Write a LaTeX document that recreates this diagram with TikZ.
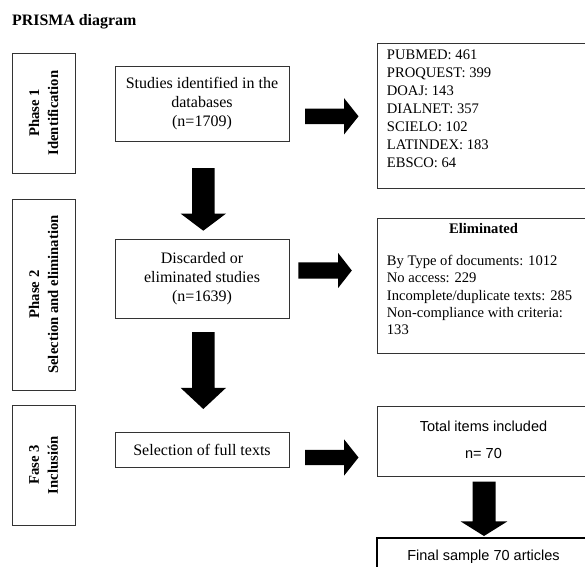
\documentclass[tikz,border=0pt]{standalone}
\usepackage{fontspec}
\setmainfont{Liberation Serif}
\setsansfont{Liberation Sans}
\usetikzlibrary{
    positioning,
    shapes.arrows
}
\tikzset{
    caja/.style={
        draw=black!80,
        line width=1pt,
        inner sep=0pt,
        outer sep=0pt,
        align=center,
        font=\fontsize{16}{19}\selectfont
    },
    fase/.style={
        caja,
        rotate=90,
        minimum height=63pt,
        font=\bfseries\fontsize{14.7}{19}\selectfont
    },
    lista/.style={
        inner sep=0pt,
        align=left,
        font=\fontsize{14.6}{18}\selectfont
    },
    texto/.style={
        inner sep=0pt,
        anchor=base,
        font=\sffamily\fontsize{14.5}{17}\selectfont
    },
    flecha/.style={
        single arrow,
        fill=black,
        draw=none,
        outer sep=0pt,
        anchor=tail
    }
}

\begin{document}
\begin{tikzpicture}[
    x=1pt,
    y=-1pt
]

    \clip (0,0) rectangle (585,566);

    % Titulo
    \node[inner sep=0pt, anchor=base west, font=\bfseries\fontsize{15.9}{18}\selectfont]
        (titulo) at (12,25) {PRISMA diagram};

    % Fases
    \node[fase, minimum width=120pt] (fase1) at (43.5,113)   {Phase 1\\Identification};
    \node[fase, minimum width=191pt] (fase2) at (43.5,294.5) {Phase 2\\Selection and elimination};
    \node[fase, minimum width=120pt] (fase3) at (43.5,465)   {Fase 3\\Inclusión};

    % Columna central
    \node[caja, minimum width=174pt, minimum height=75pt] (estudios) at (202,103.5)
        {Studies identified in the\\databases\\(n=1709)};
    \node[caja, minimum width=174pt, minimum height=79pt] (descartados) at (202,278.5)
        {Discarded or\\eliminated studies\\(n=1639)};
    \node[caja, minimum width=174pt, minimum height=35pt] (seleccion) at (202,449.5)
        {Selection of full texts};

    % Columna derecha
    \node[caja, minimum width=213pt, minimum height=145pt, anchor=north west] (bases) at (377,43) {};
    \node[lista, anchor=north west] (baseslista) at (386.7,49.5)
        {PUBMED: 461\\PROQUEST: 399\\DOAJ: 143\\DIALNET: 357\\SCIELO: 102\\LATINDEX: 183\\EBSCO: 64};

    \node[caja, minimum width=213pt, minimum height=135pt, anchor=north west] (eliminados) at (377,218) {};
    \node[inner sep=0pt, anchor=base, font=\bfseries\fontsize{14.6}{17.5}\selectfont]
        (eliminadostit) at (483.5,233) {Eliminated};
    \node[lista, anchor=north west, font=\fontsize{14.6}{17.3}\selectfont] (eliminadoslista) at (386.7,255)
        {By Type of documents: 1012\\No access: 229\\Incomplete/duplicate texts: 285\\Non-compliance with criteria:\\133};

    \node[caja, minimum width=213pt, minimum height=70pt, anchor=north west] (total) at (377,406) {};
    \node[texto] (totaltxt) at (483.5,431.7) {Total items included};
    \node[texto] (totaln)   at (483.5,458.3) {n= 70};

    \node[caja, draw=black, line width=2.6pt, minimum width=213pt, minimum height=40pt,
        anchor=north west] (final) at (377,538) {};
    \node[texto] (finaltxt) at (483.5,560) {Final sample 70 articles};

    % Flechas
    \node[flecha, shape border rotate=270, minimum height=62.7pt, inner sep=11pt,
        single arrow head extend=11.5pt, single arrow tip angle=106] (abajo1) at (203.3,168) {};
    \node[flecha, shape border rotate=270, minimum height=77pt, inner sep=11pt,
        single arrow head extend=11.5pt, single arrow tip angle=94] (abajo2) at (203.3,332) {};
    \node[flecha, shape border rotate=270, minimum height=54.3pt, inner sep=11.3pt,
        single arrow head extend=11.8pt, single arrow tip angle=116] (abajo3) at (484,481.7) {};

    \node[flecha, minimum height=53.5pt, inner sep=7.5pt,
        single arrow head extend=10.5pt, single arrow tip angle=103] (derecha1) at (305,116.3) {};
    \node[flecha, minimum height=53.5pt, inner sep=8pt,
        single arrow head extend=9.2pt, single arrow tip angle=104] (derecha2) at (298.3,270.5) {};
    \node[flecha, minimum height=53.5pt, inner sep=7.5pt,
        single arrow head extend=10.5pt, single arrow tip angle=103] (derecha3) at (305,457.5) {};

\end{tikzpicture}
\end{document}
